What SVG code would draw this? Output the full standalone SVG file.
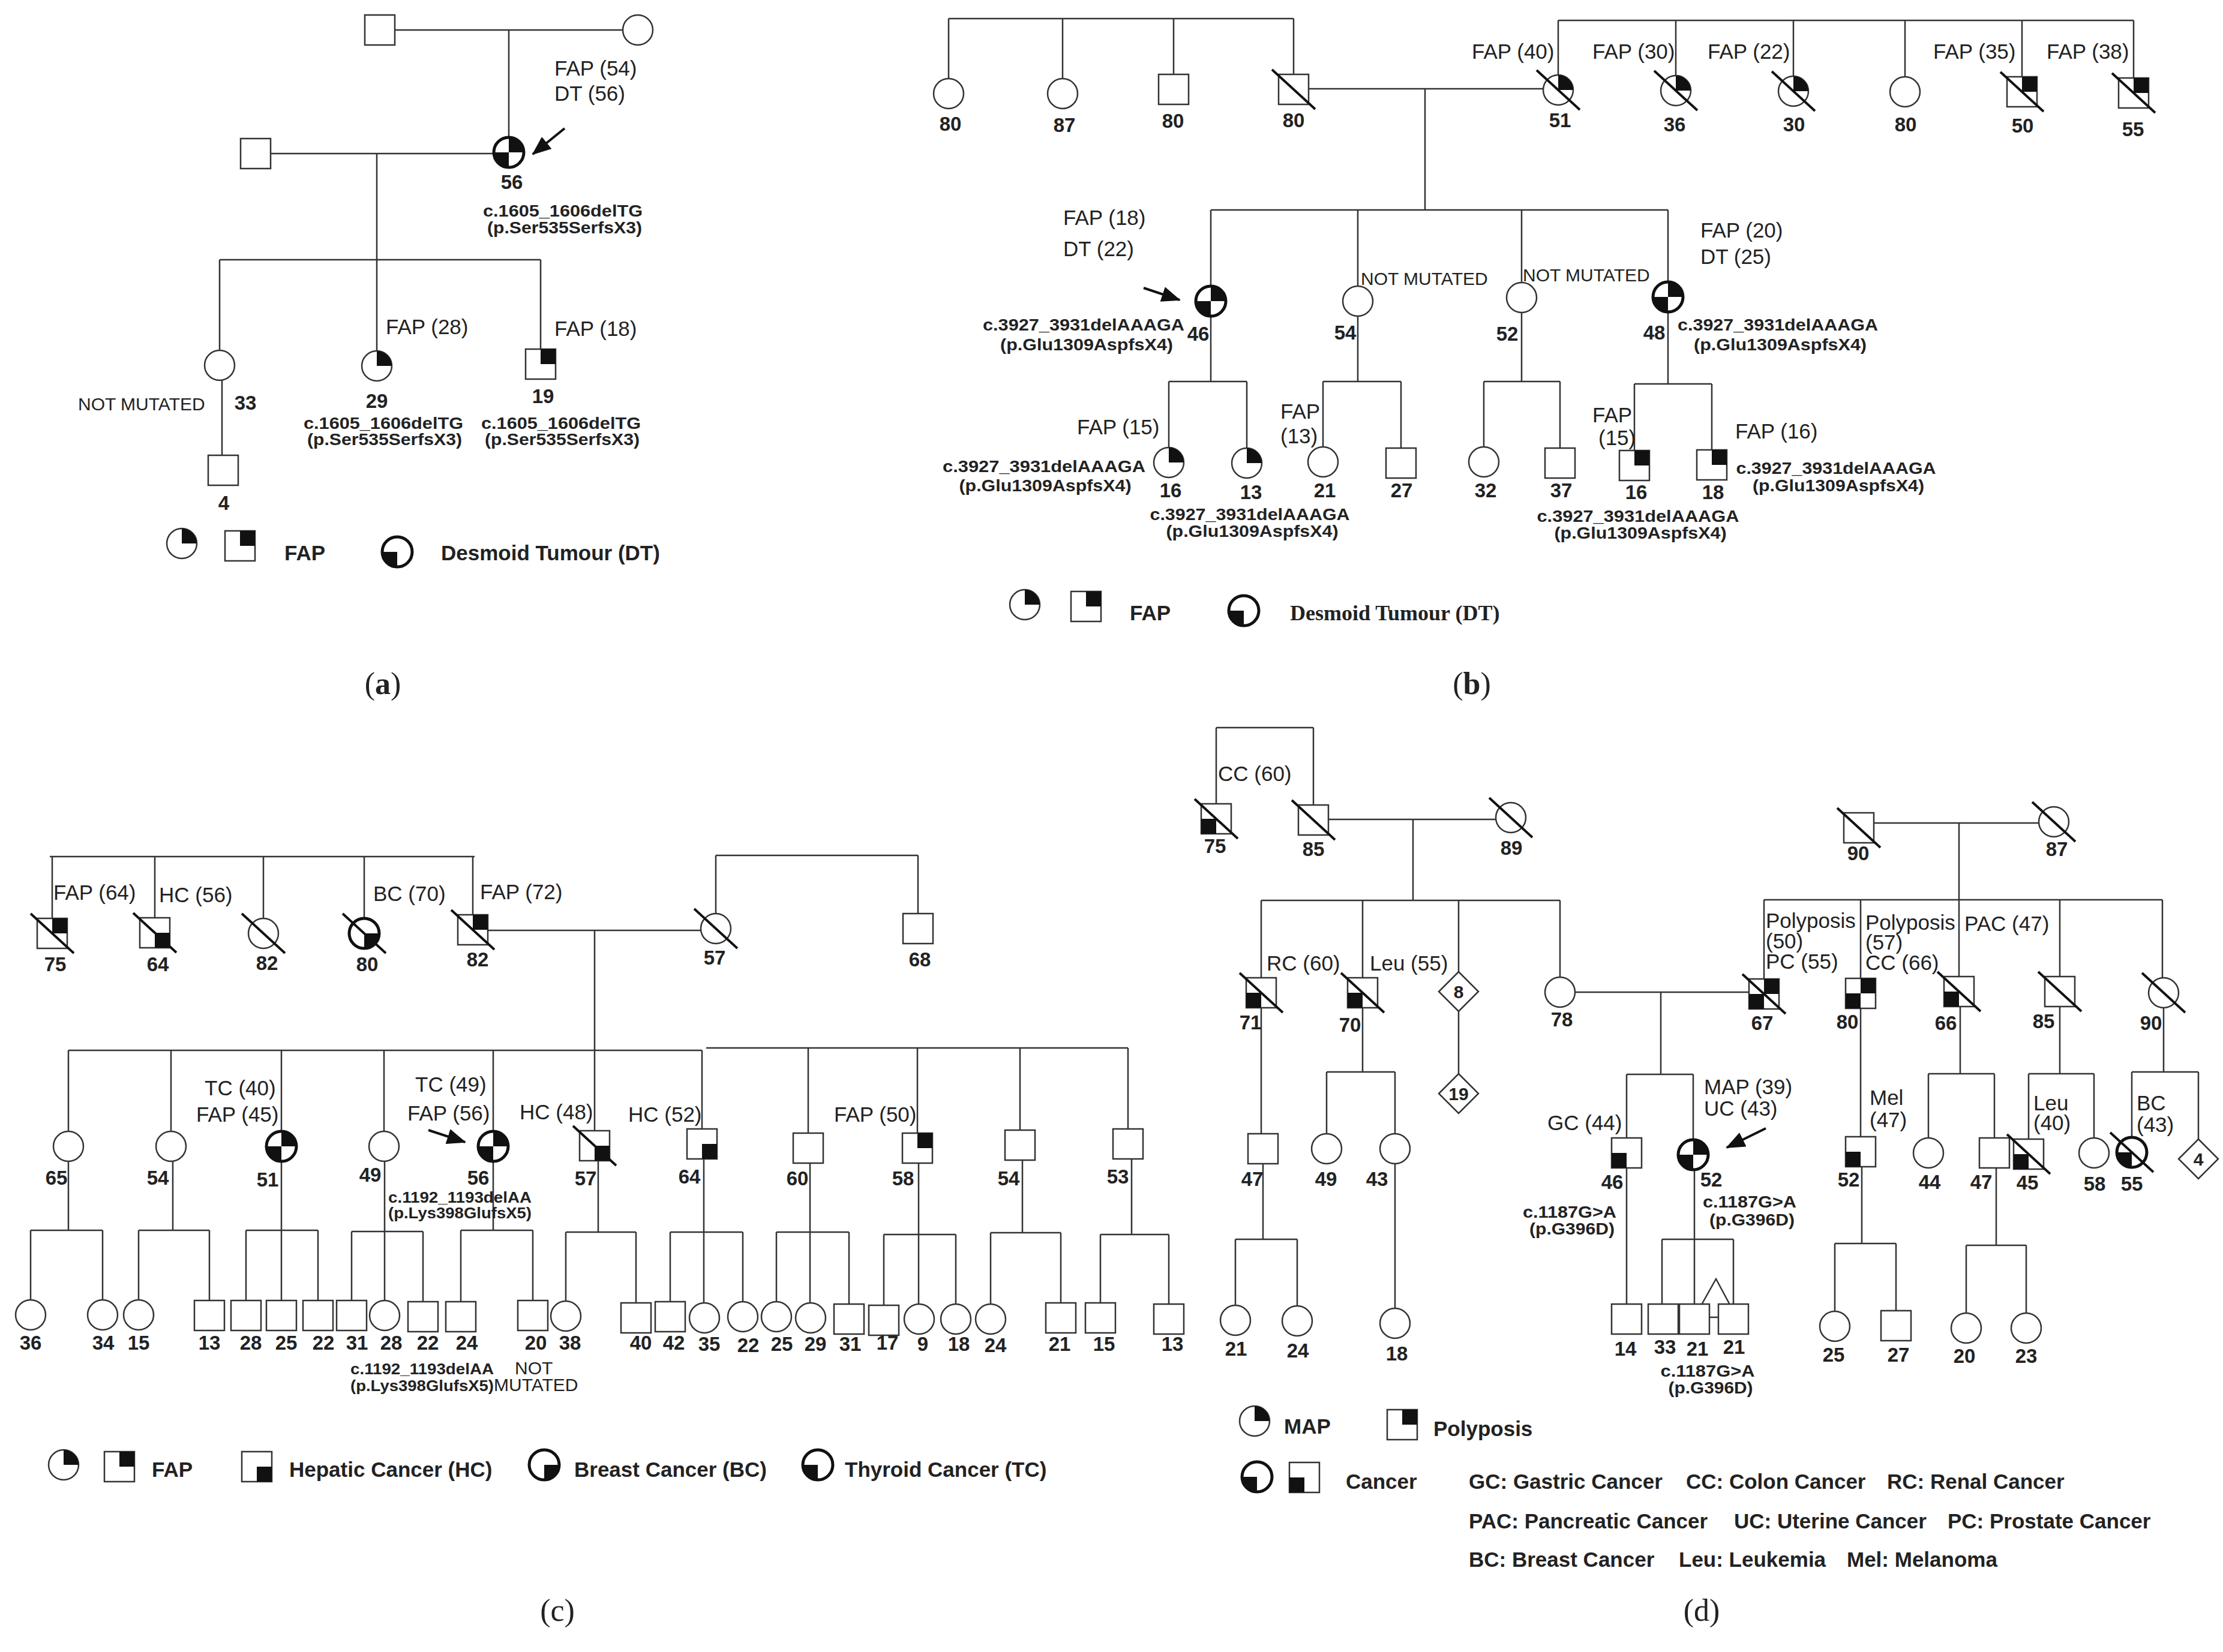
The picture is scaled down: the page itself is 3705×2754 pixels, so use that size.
<svg xmlns="http://www.w3.org/2000/svg" width="3705" height="2754" viewBox="0 0 3705 2754">
<defs>
<style>
.ln{fill:none;stroke:#333;stroke-width:2.5}
.sh{fill:#fff;stroke:#333;stroke-width:2.5}
.thk{fill:#fff;stroke:#111;stroke-width:5}
.f{fill:#111}
.dec{stroke:#111;stroke-width:4}
.arr{stroke:#111;stroke-width:4}
text{font-family:"Liberation Sans",Arial,sans-serif;fill:#222}
.t{font-size:35px}
.nm{font-size:30px}
.n{font-size:33px;font-weight:bold;text-anchor:middle}
.dn{font-size:30px;font-weight:bold;text-anchor:middle}
.m{font-size:28px;font-weight:bold;text-anchor:middle}
.mc{font-size:25px;font-weight:bold}
.lg{font-size:35px;font-weight:bold}
.lgs{font-family:"Liberation Serif",serif;font-size:36px;font-weight:bold}
.pl{font-family:"Liberation Serif",serif;font-size:52px;text-anchor:middle}
</style>
<circle id="C" r="25" class="sh"/>
<circle id="CT" r="25" class="thk"/>
<rect id="S" x="-25" y="-25" width="50" height="50" class="sh"/>
<path id="cUR" class="f" d="M0,0V-25A25,25 0 0 1 25,0Z"/>
<path id="cLL" class="f" d="M0,0V25A25,25 0 0 1 -25,0Z"/>
<path id="cLR" class="f" d="M0,0H25A25,25 0 0 1 0,25Z"/>
<rect id="sUR" class="f" x="0" y="-25" width="25" height="25"/>
<rect id="sLL" class="f" x="-25" y="0" width="25" height="25"/>
<rect id="sLR" class="f" x="0" y="0" width="25" height="25"/>
<line id="D" x1="-36" y1="-33" x2="36" y2="33" class="dec"/>
<path id="DM" d="M0,-33L33,0L0,33L-33,0Z" class="sh"/>
<marker id="ah" markerUnits="userSpaceOnUse" markerWidth="32" markerHeight="26" refX="30" refY="13" orient="auto"><path d="M0,0L32,13L0,26Z" fill="#111"/></marker>
</defs>
<rect width="3705" height="2754" fill="#fff"/>

<!-- ================= PANEL A ================= -->
<g id="a-connectors" class="ln">
<path d="M658,50H1038M848,50V229M451,256H823M628,256V585M366,433H901M366,433V584M901,433V582M370,634V759"/>
</g>
<g id="a-I1"><use href="#S" x="633" y="50"/></g>
<g id="a-I2"><use href="#C" x="1063" y="50"/></g>
<g id="a-II1"><use href="#S" x="426" y="256"/></g>
<g id="a-II2"><use href="#CT" x="848" y="254"/><use href="#cUR" x="848" y="254"/><use href="#cLL" x="848" y="254"/>
<text class="n" x="853" y="315">56</text>
<text class="t" x="924" y="126">FAP (54)</text><text class="t" x="924" y="168">DT (56)</text>
<text class="m" x="938" y="361" textLength="266" lengthAdjust="spacingAndGlyphs">c.1605_1606delTG</text>
<text class="m" x="941" y="389" textLength="258" lengthAdjust="spacingAndGlyphs">(p.Ser535SerfsX3)</text>
<line class="arr" x1="941" y1="214" x2="888" y2="257" marker-end="url(#ah)"/></g>
<g id="a-III1"><use href="#C" x="366" y="609"/><text class="n" x="409" y="683">33</text><text class="nm" x="130" y="684">NOT MUTATED</text></g>
<g id="a-III2"><use href="#C" x="628" y="610"/><use href="#cUR" x="628" y="610"/>
<text class="t" x="643" y="557">FAP (28)</text><text class="n" x="628" y="680">29</text>
<text class="m" x="639" y="715" textLength="266" lengthAdjust="spacingAndGlyphs">c.1605_1606delTG</text>
<text class="m" x="641" y="742" textLength="258" lengthAdjust="spacingAndGlyphs">(p.Ser535SerfsX3)</text></g>
<g id="a-III3"><use href="#S" x="901" y="607"/><use href="#sUR" x="901" y="607"/>
<text class="t" x="924" y="560">FAP (18)</text><text class="n" x="905" y="672">19</text>
<text class="m" x="935" y="715" textLength="266" lengthAdjust="spacingAndGlyphs">c.1605_1606delTG</text>
<text class="m" x="937" y="742" textLength="258" lengthAdjust="spacingAndGlyphs">(p.Ser535SerfsX3)</text></g>
<g id="a-IV1"><use href="#S" x="372" y="784"/><text class="n" x="373" y="850">4</text></g>
<g id="a-legend">
<use href="#C" x="303" y="906"/><use href="#cUR" x="303" y="906"/>
<use href="#S" x="400" y="910"/><use href="#sUR" x="400" y="910"/>
<text class="lg" x="474" y="934">FAP</text>
<use href="#CT" x="662" y="920"/><use href="#cLL" x="662" y="920"/>
<text class="lg" x="735" y="934">Desmoid Tumour (DT)</text>
</g>
<text class="pl" x="638" y="1157">(<tspan font-weight="bold">a</tspan>)</text>

<!-- ================= PANEL B ================= -->
<g id="b-connectors" class="ln">
<path d="M1581,31H2156M1581,31V131M1771,31V131M1956,31V124M2156,31V124"/>
<path d="M2597,34H3556M2597,34V125M2793,34V126M2989,34V127M3175,34V128M3370,34V128M3556,34V130"/>
<path d="M2181,148H2572M2375,148V350M2018,350H2780M2018,350V477M2263,350V477M2536,350V471M2780,350V470"/>
<path d="M2018,527V636M1948,636H2078M1948,636V746M2078,636V747"/>
<path d="M2263,527V636M2205,636H2335M2205,636V745M2335,636V747"/>
<path d="M2536,521V636M2473,636H2600M2473,636V745M2600,636V747"/>
<path d="M2780,520V640M2724,640H2853M2724,640V751M2853,640V750"/>
</g>
<g id="b-I1"><use href="#C" x="1581" y="156"/><text class="n" x="1584" y="218">80</text></g>
<g id="b-I2"><use href="#C" x="1771" y="156"/><text class="n" x="1774" y="220">87</text></g>
<g id="b-I3"><use href="#S" x="1956" y="149"/><text class="n" x="1955" y="213">80</text></g>
<g id="b-I4"><use href="#S" x="2156" y="149"/><use href="#D" x="2156" y="149"/><text class="n" x="2156" y="212">80</text></g>
<g id="b-I5"><use href="#C" x="2597" y="150"/><use href="#cUR" x="2597" y="150"/><use href="#D" x="2597" y="150"/><text class="n" x="2600" y="212">51</text><text class="t" x="2453" y="98">FAP (40)</text></g>
<g id="b-I6"><use href="#C" x="2793" y="151"/><use href="#cUR" x="2793" y="151"/><use href="#D" x="2793" y="151"/><text class="n" x="2791" y="219">36</text><text class="t" x="2654" y="98">FAP (30)</text></g>
<g id="b-I7"><use href="#C" x="2989" y="152"/><use href="#cUR" x="2989" y="152"/><use href="#D" x="2989" y="152"/><text class="n" x="2990" y="219">30</text><text class="t" x="2846" y="98">FAP (22)</text></g>
<g id="b-I8"><use href="#C" x="3175" y="153"/><text class="n" x="3176" y="219">80</text></g>
<g id="b-I9"><use href="#S" x="3370" y="153"/><use href="#sUR" x="3370" y="153"/><use href="#D" x="3370" y="153"/><text class="n" x="3371" y="221">50</text><text class="t" x="3222" y="98">FAP (35)</text></g>
<g id="b-I10"><use href="#S" x="3556" y="155"/><use href="#sUR" x="3556" y="155"/><use href="#D" x="3556" y="155"/><text class="n" x="3555" y="227">55</text><text class="t" x="3411" y="98">FAP (38)</text></g>
<g id="b-II1"><use href="#CT" x="2018" y="502"/><use href="#cUR" x="2018" y="502"/><use href="#cLL" x="2018" y="502"/>
<text class="t" x="1772" y="375">FAP (18)</text><text class="t" x="1772" y="427">DT (22)</text>
<text class="n" x="1997" y="568">46</text>
<text class="m" x="1806" y="551" textLength="336" lengthAdjust="spacingAndGlyphs">c.3927_3931delAAAGA</text>
<text class="m" x="1811" y="584" textLength="288" lengthAdjust="spacingAndGlyphs">(p.Glu1309AspfsX4)</text>
<line class="arr" x1="1906" y1="480" x2="1966" y2="500" marker-end="url(#ah)"/></g>
<g id="b-II2"><use href="#C" x="2263" y="502"/><text class="nm" x="2268" y="475">NOT MUTATED</text><text class="n" x="2242" y="566">54</text></g>
<g id="b-II3"><use href="#C" x="2536" y="496"/><text class="nm" x="2538" y="469">NOT MUTATED</text><text class="n" x="2512" y="568">52</text></g>
<g id="b-II4"><use href="#CT" x="2780" y="495"/><use href="#cUR" x="2780" y="495"/><use href="#cLL" x="2780" y="495"/>
<text class="t" x="2834" y="396">FAP (20)</text><text class="t" x="2834" y="440">DT (25)</text>
<text class="n" x="2757" y="566">48</text>
<text class="m" x="2963" y="551" textLength="334" lengthAdjust="spacingAndGlyphs">c.3927_3931delAAAGA</text>
<text class="m" x="2967" y="584" textLength="288" lengthAdjust="spacingAndGlyphs">(p.Glu1309AspfsX4)</text></g>
<g id="b-III1"><use href="#C" x="1948" y="771"/><use href="#cUR" x="1948" y="771"/>
<text class="t" x="1795" y="724">FAP (15)</text><text class="n" x="1951" y="829">16</text>
<text class="m" x="1740" y="787" textLength="338" lengthAdjust="spacingAndGlyphs">c.3927_3931delAAAGA</text>
<text class="m" x="1742" y="819" textLength="287" lengthAdjust="spacingAndGlyphs">(p.Glu1309AspfsX4)</text></g>
<g id="b-III2"><use href="#C" x="2078" y="772"/><use href="#cUR" x="2078" y="772"/>
<text class="n" x="2085" y="832">13</text>
<text class="m" x="2083" y="867" textLength="333" lengthAdjust="spacingAndGlyphs">c.3927_3931delAAAGA</text>
<text class="m" x="2087" y="895" textLength="287" lengthAdjust="spacingAndGlyphs">(p.Glu1309AspfsX4)</text></g>
<g id="b-III3"><use href="#C" x="2205" y="770"/><text class="t" x="2134" y="698">FAP</text><text class="t" x="2134" y="739">(13)</text><text class="n" x="2208" y="829">21</text></g>
<g id="b-III4"><use href="#S" x="2335" y="772"/><text class="n" x="2336" y="829">27</text></g>
<g id="b-III5"><use href="#C" x="2473" y="770"/><text class="n" x="2476" y="829">32</text></g>
<g id="b-III6"><use href="#S" x="2600" y="772"/><text class="n" x="2602" y="829">37</text></g>
<g id="b-III7"><use href="#S" x="2724" y="776"/><use href="#sUR" x="2724" y="776"/>
<text class="t" x="2654" y="704">FAP</text><text class="t" x="2664" y="742">(15)</text><text class="n" x="2727" y="832">16</text>
<text class="m" x="2730" y="870" textLength="337" lengthAdjust="spacingAndGlyphs">c.3927_3931delAAAGA</text>
<text class="m" x="2734" y="898" textLength="287" lengthAdjust="spacingAndGlyphs">(p.Glu1309AspfsX4)</text></g>
<g id="b-III8"><use href="#S" x="2853" y="775"/><use href="#sUR" x="2853" y="775"/>
<text class="t" x="2892" y="731">FAP (16)</text><text class="n" x="2855" y="832">18</text>
<text class="m" x="3060" y="790" textLength="333" lengthAdjust="spacingAndGlyphs">c.3927_3931delAAAGA</text>
<text class="m" x="3064" y="819" textLength="286" lengthAdjust="spacingAndGlyphs">(p.Glu1309AspfsX4)</text></g>
<g id="b-legend">
<use href="#C" x="1708" y="1008"/><use href="#cUR" x="1708" y="1008"/>
<use href="#S" x="1810" y="1011"/><use href="#sUR" x="1810" y="1011"/>
<text class="lg" x="1883" y="1034">FAP</text>
<use href="#CT" x="2073" y="1018"/><use href="#cLL" x="2073" y="1018"/>
<text class="lgs" x="2150" y="1034">Desmoid Tumour (DT)</text>
</g>
<text class="pl" x="2453" y="1157">(<tspan font-weight="bold">b</tspan>)</text>

<!-- ================= PANEL C ================= -->
<g id="c-connectors" class="ln">
<path d="M83,1428H791M87,1428V1531M258,1428V1530M439,1428V1531M607,1428V1531M788,1428V1525"/>
<path d="M813,1551H1168M1193,1426H1530M1193,1426V1523M1530,1426V1523M991,1551V1885"/>
<path d="M114,1751H1170M114,1751V1886M285,1751V1886M469,1751V1886M640,1751V1886M822,1751V1886M1170,1751V1882"/>
<path d="M1177,1747H1880M1347,1747V1889M1529,1747V1889M1700,1747V1884M1880,1747V1882"/>
<path d="M114,1936V2051M51,2051H171M51,2051V2167M171,2051V2167"/>
<path d="M288,1936V2051M231,2051H349M231,2051V2167M349,2051V2168"/>
<path d="M469,1936V2168M410,2051H530M410,2051V2168M530,2051V2168"/>
<path d="M641,1936V2168M586,2053H705M586,2053V2168M705,2053V2170"/>
<path d="M822,1936V2051M768,2051H888M768,2051V2170M888,2051V2168"/>
<path d="M997,1935V2054M943,2054H1060M943,2054V2169M1060,2054V2172"/>
<path d="M1173,1932V2172M1117,2054H1238M1117,2054V2170M1238,2054V2170"/>
<path d="M1350,1939V2172M1294,2054H1415M1294,2054V2170M1415,2054V2174"/>
<path d="M1531,1939V2174M1473,2058H1593M1473,2058V2176M1593,2058V2174"/>
<path d="M1704,1934V2055M1651,2055H1768M1651,2055V2174M1768,2055V2172"/>
<path d="M1886,1932V2058M1834,2058H1948M1834,2058V2172M1948,2058V2174"/>
</g>
<g id="c-I1"><use href="#S" x="87" y="1556"/><use href="#sUR" x="87" y="1556"/><use href="#D" x="87" y="1556"/><text class="t" x="89" y="1500">FAP (64)</text><text class="n" x="92" y="1619">75</text></g>
<g id="c-I2"><use href="#S" x="258" y="1555"/><use href="#sLR" x="258" y="1555"/><use href="#D" x="258" y="1555"/><text class="t" x="265" y="1504">HC (56)</text><text class="n" x="263" y="1619">64</text></g>
<g id="c-I3"><use href="#C" x="439" y="1556"/><use href="#D" x="439" y="1556"/><text class="n" x="445" y="1617">82</text></g>
<g id="c-I4"><use href="#CT" x="607" y="1556"/><use href="#cLR" x="607" y="1556"/><use href="#D" x="607" y="1556"/><text class="t" x="622" y="1502">BC (70)</text><text class="n" x="612" y="1619">80</text></g>
<g id="c-I5"><use href="#S" x="788" y="1550"/><use href="#sUR" x="788" y="1550"/><use href="#D" x="788" y="1550"/><text class="t" x="800" y="1499">FAP (72)</text><text class="n" x="796" y="1611">82</text></g>
<g id="c-I6"><use href="#C" x="1193" y="1548"/><use href="#D" x="1193" y="1548"/><text class="n" x="1191" y="1608">57</text></g>
<g id="c-I7"><use href="#S" x="1530" y="1548"/><text class="n" x="1533" y="1611">68</text></g>
<g id="c-II1"><use href="#C" x="114" y="1911"/><text class="n" x="94" y="1975">65</text></g>
<g id="c-II2"><use href="#C" x="285" y="1911"/><text class="n" x="263" y="1975">54</text></g>
<g id="c-II3"><use href="#CT" x="469" y="1911"/><use href="#cUR" x="469" y="1911"/><use href="#cLL" x="469" y="1911"/><text class="t" x="341" y="1826">TC (40)</text><text class="t" x="327" y="1870">FAP (45)</text><text class="n" x="446" y="1978">51</text></g>
<g id="c-II4"><use href="#C" x="640" y="1911"/><text class="n" x="617" y="1970">49</text></g>
<g id="c-II5"><use href="#CT" x="822" y="1911"/><use href="#cUR" x="822" y="1911"/><use href="#cLL" x="822" y="1911"/><text class="t" x="692" y="1820">TC (49)</text><text class="t" x="679" y="1868">FAP (56)</text><text class="n" x="797" y="1975">56</text>
<text class="mc" x="647" y="2005" textLength="239" lengthAdjust="spacingAndGlyphs">c.1192_1193delAA</text>
<text class="mc" x="647" y="2031" textLength="239" lengthAdjust="spacingAndGlyphs">(p.Lys398GlufsX5)</text>
<line class="arr" x1="714" y1="1884" x2="775" y2="1904" marker-end="url(#ah)"/></g>
<g id="c-II6"><use href="#S" x="991" y="1910"/><use href="#sLR" x="991" y="1910"/><use href="#D" x="991" y="1910"/><text class="t" x="866" y="1866">HC (48)</text><text class="n" x="976" y="1976">57</text></g>
<g id="c-II7"><use href="#S" x="1170" y="1907"/><use href="#sLR" x="1170" y="1907"/><text class="t" x="1047" y="1870">HC (52)</text><text class="n" x="1149" y="1973">64</text></g>
<g id="c-II8"><use href="#S" x="1347" y="1914"/><text class="n" x="1329" y="1976">60</text></g>
<g id="c-II9"><use href="#S" x="1529" y="1914"/><use href="#sUR" x="1529" y="1914"/><text class="t" x="1390" y="1870">FAP (50)</text><text class="n" x="1505" y="1976">58</text></g>
<g id="c-II10"><use href="#S" x="1700" y="1909"/><text class="n" x="1681" y="1976">54</text></g>
<g id="c-II11"><use href="#S" x="1880" y="1907"/><text class="n" x="1863" y="1973">53</text></g>
<g id="c-III">
<use href="#C" x="51" y="2192"/><text class="n" x="51" y="2250">36</text>
<use href="#C" x="171" y="2192"/><text class="n" x="172" y="2250">34</text>
<use href="#C" x="231" y="2192"/><text class="n" x="231" y="2250">15</text>
<use href="#S" x="349" y="2193"/><text class="n" x="349" y="2250">13</text>
<use href="#S" x="410" y="2193"/><text class="n" x="418" y="2250">28</text>
<use href="#S" x="469" y="2193"/><text class="n" x="477" y="2250">25</text>
<use href="#S" x="530" y="2193"/><text class="n" x="539" y="2250">22</text>
<use href="#S" x="586" y="2193"/><text class="n" x="595" y="2250">31</text>
<use href="#C" x="641" y="2193"/><text class="n" x="652" y="2250">28</text>
<use href="#S" x="705" y="2195"/><text class="n" x="713" y="2250">22</text>
<use href="#S" x="768" y="2195"/><text class="n" x="778" y="2250">24</text>
<use href="#S" x="888" y="2193"/><text class="n" x="893" y="2250">20</text>
<use href="#C" x="943" y="2194"/><text class="n" x="950" y="2250">38</text>
<use href="#S" x="1060" y="2197"/><text class="n" x="1068" y="2250">40</text>
<use href="#S" x="1117" y="2195"/><text class="n" x="1123" y="2250">42</text>
<use href="#C" x="1174" y="2197"/><text class="n" x="1182" y="2252">35</text>
<use href="#C" x="1238" y="2195"/><text class="n" x="1247" y="2254">22</text>
<use href="#C" x="1294" y="2195"/><text class="n" x="1303" y="2252">25</text>
<use href="#C" x="1351" y="2197"/><text class="n" x="1359" y="2252">29</text>
<use href="#S" x="1415" y="2199"/><text class="n" x="1417" y="2252">31</text>
<use href="#S" x="1473" y="2201"/><text class="n" x="1479" y="2250">17</text>
<use href="#C" x="1532" y="2199"/><text class="n" x="1538" y="2252">9</text>
<use href="#C" x="1593" y="2199"/><text class="n" x="1598" y="2252">18</text>
<use href="#C" x="1651" y="2199"/><text class="n" x="1659" y="2254">24</text>
<use href="#S" x="1768" y="2197"/><text class="n" x="1766" y="2252">21</text>
<use href="#S" x="1834" y="2197"/><text class="n" x="1840" y="2252">15</text>
<use href="#S" x="1948" y="2199"/><text class="n" x="1954" y="2252">13</text>
<text class="mc" x="584" y="2291" textLength="239" lengthAdjust="spacingAndGlyphs">c.1192_1193delAA</text>
<text class="mc" x="584" y="2319" textLength="239" lengthAdjust="spacingAndGlyphs">(p.Lys398GlufsX5)</text>
<text class="nm" x="858" y="2291">NOT</text>
<text class="nm" x="823" y="2319">MUTATED</text>
</g>
<g id="c-legend">
<use href="#C" x="106" y="2442"/><use href="#cUR" x="106" y="2442"/>
<use href="#S" x="199" y="2445"/><use href="#sUR" x="199" y="2445"/>
<text class="lg" x="253" y="2462">FAP</text>
<use href="#S" x="428" y="2445"/><use href="#sLR" x="428" y="2445"/>
<text class="lg" x="482" y="2462">Hepatic Cancer (HC)</text>
<use href="#CT" x="907" y="2442"/><use href="#cLR" x="907" y="2442"/>
<text class="lg" x="957" y="2462">Breast Cancer (BC)</text>
<use href="#CT" x="1363" y="2442"/><use href="#cLL" x="1363" y="2442"/>
<text class="lg" x="1408" y="2462">Thyroid Cancer (TC)</text>
</g>
<text class="pl" x="929" y="2702">(c)</text>

<!-- ================= PANEL D ================= -->
<g id="d-connectors" class="ln">
<path d="M2027,1213H2189M2027,1213V1340M2189,1213V1342M2214,1366H2494M2355,1366V1501"/>
<path d="M2102,1501H2600M2102,1501V1630M2271,1501V1630M2431,1501V1620M2600,1501V1629M2431,1686V1790"/>
<path d="M2102,1680V1890M2271,1680V1787M2211,1787H2325M2211,1787V1890M2325,1787V1890"/>
<path d="M2625,1654H2915M2768,1654V1791M2711,1791H2822M2711,1791V1897M2822,1791V1900"/>
<path d="M3123,1372H3398M3265,1372V1628M2940,1500H3604M2940,1500V1632M3101,1500V1631M3433,1500V1628M3604,1500V1630"/>
<path d="M3101,1681V1895M3267,1678V1790M3214,1790H3324M3214,1790V1897M3324,1790V1897"/>
<path d="M3433,1678V1790M3381,1790H3490M3381,1790V1899M3490,1790V1897"/>
<path d="M3606,1680V1787M3553,1787H3664M3553,1787V1896M3664,1787V1899"/>
<path d="M2105,1940V2066M2059,2066H2162M2059,2066V2177M2162,2066V2177M2325,1940V2181"/>
<path d="M2711,1947V2174M2824,1950V2174M2770,2066H2889M2770,2066V2174M2889,2066V2174M2837,2173L2860,2132L2882,2173M2849,2196H2864"/>
<path d="M3103,1945V2073M3058,2073H3160M3058,2073V2186M3160,2073V2185"/>
<path d="M3327,1947V2076M3277,2076H3377M3277,2076V2189M3377,2076V2189"/>
</g>
<g id="d-I1"><use href="#S" x="2027" y="1365"/><use href="#sLL" x="2027" y="1365"/><use href="#D" x="2027" y="1365"/><text class="t" x="2030" y="1302">CC (60)</text><text class="n" x="2025" y="1422">75</text></g>
<g id="d-I2"><use href="#S" x="2189" y="1367"/><use href="#D" x="2189" y="1367"/><text class="n" x="2189" y="1427">85</text></g>
<g id="d-I3"><use href="#C" x="2518" y="1363"/><use href="#D" x="2518" y="1363"/><text class="n" x="2519" y="1425">89</text></g>
<g id="d-I4"><use href="#S" x="3098" y="1380"/><use href="#D" x="3098" y="1380"/><text class="n" x="3097" y="1434">90</text></g>
<g id="d-I5"><use href="#C" x="3423" y="1370"/><use href="#D" x="3423" y="1370"/><text class="n" x="3428" y="1427">87</text></g>
<g id="d-II1"><use href="#S" x="2102" y="1655"/><use href="#sLL" x="2102" y="1655"/><use href="#D" x="2102" y="1655"/><text class="t" x="2111" y="1618">RC (60)</text><text class="n" x="2084" y="1716">71</text></g>
<g id="d-II2"><use href="#S" x="2271" y="1655"/><use href="#sLL" x="2271" y="1655"/><use href="#D" x="2271" y="1655"/><text class="t" x="2283" y="1618">Leu (55)</text><text class="n" x="2250" y="1720">70</text></g>
<g id="d-II3"><use href="#DM" x="2431" y="1653"/><text class="dn" x="2431" y="1664">8</text></g>
<g id="d-II4"><use href="#C" x="2600" y="1654"/><text class="n" x="2603" y="1711">78</text></g>
<g id="d-II5"><use href="#S" x="2940" y="1657"/><use href="#sUR" x="2940" y="1657"/><use href="#sLL" x="2940" y="1657"/><use href="#D" x="2940" y="1657"/>
<text class="t" x="2943" y="1547">Polyposis</text><text class="t" x="2943" y="1581">(50)</text><text class="t" x="2943" y="1615">PC (55)</text><text class="n" x="2937" y="1717">67</text></g>
<g id="d-II6"><use href="#S" x="3101" y="1656"/><use href="#sUR" x="3101" y="1656"/><use href="#sLL" x="3101" y="1656"/>
<text class="t" x="3109" y="1550">Polyposis</text><text class="t" x="3109" y="1583">(57)</text><text class="t" x="3109" y="1617">CC (66)</text><text class="n" x="3079" y="1715">80</text></g>
<g id="d-II7"><use href="#S" x="3265" y="1653"/><use href="#sLL" x="3265" y="1653"/><use href="#D" x="3265" y="1653"/><text class="t" x="3274" y="1552">PAC (47)</text><text class="n" x="3243" y="1717">66</text></g>
<g id="d-II8"><use href="#S" x="3433" y="1653"/><use href="#D" x="3433" y="1653"/><text class="n" x="3406" y="1714">85</text></g>
<g id="d-II9"><use href="#C" x="3606" y="1655"/><use href="#D" x="3606" y="1655"/><text class="n" x="3585" y="1717">90</text></g>
<g id="d-III1"><use href="#S" x="2105" y="1915"/><text class="n" x="2087" y="1977">47</text></g>
<g id="d-III2"><use href="#C" x="2211" y="1915"/><text class="n" x="2210" y="1977">49</text></g>
<g id="d-III3"><use href="#C" x="2325" y="1915"/><text class="n" x="2295" y="1977">43</text></g>
<g id="d-III4"><use href="#DM" x="2431" y="1823"/><text class="dn" x="2431" y="1834">19</text></g>
<g id="d-III5"><use href="#S" x="2711" y="1922"/><use href="#sLL" x="2711" y="1922"/><text class="t" x="2579" y="1884">GC (44)</text><text class="n" x="2687" y="1982">46</text>
<text class="m" x="2616" y="2030" textLength="156" lengthAdjust="spacingAndGlyphs">c.1187G&gt;A</text>
<text class="m" x="2620" y="2058" textLength="142" lengthAdjust="spacingAndGlyphs">(p.G396D)</text></g>
<g id="d-III6"><use href="#CT" x="2822" y="1925"/><use href="#cUR" x="2822" y="1925"/><use href="#cLL" x="2822" y="1925"/>
<text class="t" x="2840" y="1824">MAP (39)</text><text class="t" x="2840" y="1860">UC (43)</text><text class="n" x="2852" y="1978">52</text>
<text class="m" x="2916" y="2013" textLength="156" lengthAdjust="spacingAndGlyphs">c.1187G&gt;A</text>
<text class="m" x="2920" y="2043" textLength="142" lengthAdjust="spacingAndGlyphs">(p.G396D)</text>
<line class="arr" x1="2943" y1="1881" x2="2878" y2="1913" marker-end="url(#ah)"/></g>
<g id="d-III7"><use href="#S" x="3101" y="1920"/><use href="#sLL" x="3101" y="1920"/><text class="t" x="3116" y="1842">Mel</text><text class="t" x="3116" y="1879">(47)</text><text class="n" x="3081" y="1978">52</text></g>
<g id="d-III8"><use href="#C" x="3214" y="1922"/><text class="n" x="3216" y="1982">44</text></g>
<g id="d-III9"><use href="#S" x="3324" y="1922"/><text class="n" x="3302" y="1982">47</text></g>
<g id="d-III10"><use href="#S" x="3381" y="1924"/><use href="#sLL" x="3381" y="1924"/><use href="#D" x="3381" y="1924"/><text class="t" x="3389" y="1851">Leu</text><text class="t" x="3389" y="1884">(40)</text><text class="n" x="3379" y="1983">45</text></g>
<g id="d-III11"><use href="#C" x="3490" y="1922"/><text class="n" x="3491" y="1985">58</text></g>
<g id="d-III12"><use href="#CT" x="3553" y="1921"/><use href="#cLL" x="3553" y="1921"/><use href="#D" x="3553" y="1921"/><text class="t" x="3561" y="1851">BC</text><text class="t" x="3561" y="1887">(43)</text><text class="n" x="3553" y="1985">55</text></g>
<g id="d-III13"><use href="#DM" x="3664" y="1932"/><text class="dn" x="3664" y="1943">4</text></g>
<g id="d-IV">
<use href="#C" x="2059" y="2201"/><text class="n" x="2060" y="2260">21</text>
<use href="#C" x="2162" y="2202"/><text class="n" x="2163" y="2263">24</text>
<use href="#C" x="2325" y="2206"/><text class="n" x="2328" y="2268">18</text>
<use href="#S" x="2711" y="2199"/><text class="n" x="2709" y="2260">14</text>
<use href="#S" x="2772" y="2199"/><text class="n" x="2775" y="2257">33</text>
<use href="#S" x="2824" y="2199"/><text class="n" x="2829" y="2260">21</text>
<use href="#S" x="2889" y="2199"/><text class="n" x="2890" y="2257">21</text>
<text class="m" x="2846" y="2295" textLength="157" lengthAdjust="spacingAndGlyphs">c.1187G&gt;A</text>
<text class="m" x="2851" y="2323" textLength="141" lengthAdjust="spacingAndGlyphs">(p.G396D)</text>
<use href="#C" x="3058" y="2211"/><text class="n" x="3056" y="2270">25</text>
<use href="#S" x="3160" y="2210"/><text class="n" x="3164" y="2270">27</text>
<use href="#C" x="3277" y="2214"/><text class="n" x="3274" y="2272">20</text>
<use href="#C" x="3377" y="2214"/><text class="n" x="3377" y="2272">23</text>
</g>
<g id="d-legend">
<use href="#C" x="2091" y="2369"/><use href="#cUR" x="2091" y="2369"/>
<text class="lg" x="2140" y="2390">MAP</text>
<use href="#S" x="2337" y="2375"/><use href="#sUR" x="2337" y="2375"/>
<text class="lg" x="2389" y="2394">Polyposis</text>
<use href="#CT" x="2095" y="2462"/><use href="#cLL" x="2095" y="2462"/>
<use href="#S" x="2174" y="2463"/><use href="#sLL" x="2174" y="2463"/>
<text class="lg" x="2243" y="2482">Cancer</text>
<text class="lg" x="2448" y="2482">GC: Gastric Cancer</text>
<text class="lg" x="2810" y="2482">CC: Colon Cancer</text>
<text class="lg" x="3145" y="2482">RC: Renal Cancer</text>
<text class="lg" x="2448" y="2548">PAC: Pancreatic Cancer</text>
<text class="lg" x="2890" y="2548">UC: Uterine Cancer</text>
<text class="lg" x="3246" y="2548">PC: Prostate Cancer</text>
<text class="lg" x="2448" y="2612">BC: Breast Cancer</text>
<text class="lg" x="2798" y="2612">Leu: Leukemia</text>
<text class="lg" x="3078" y="2612">Mel: Melanoma</text>
</g>
<text class="pl" x="2836" y="2702">(d)</text>
</svg>
